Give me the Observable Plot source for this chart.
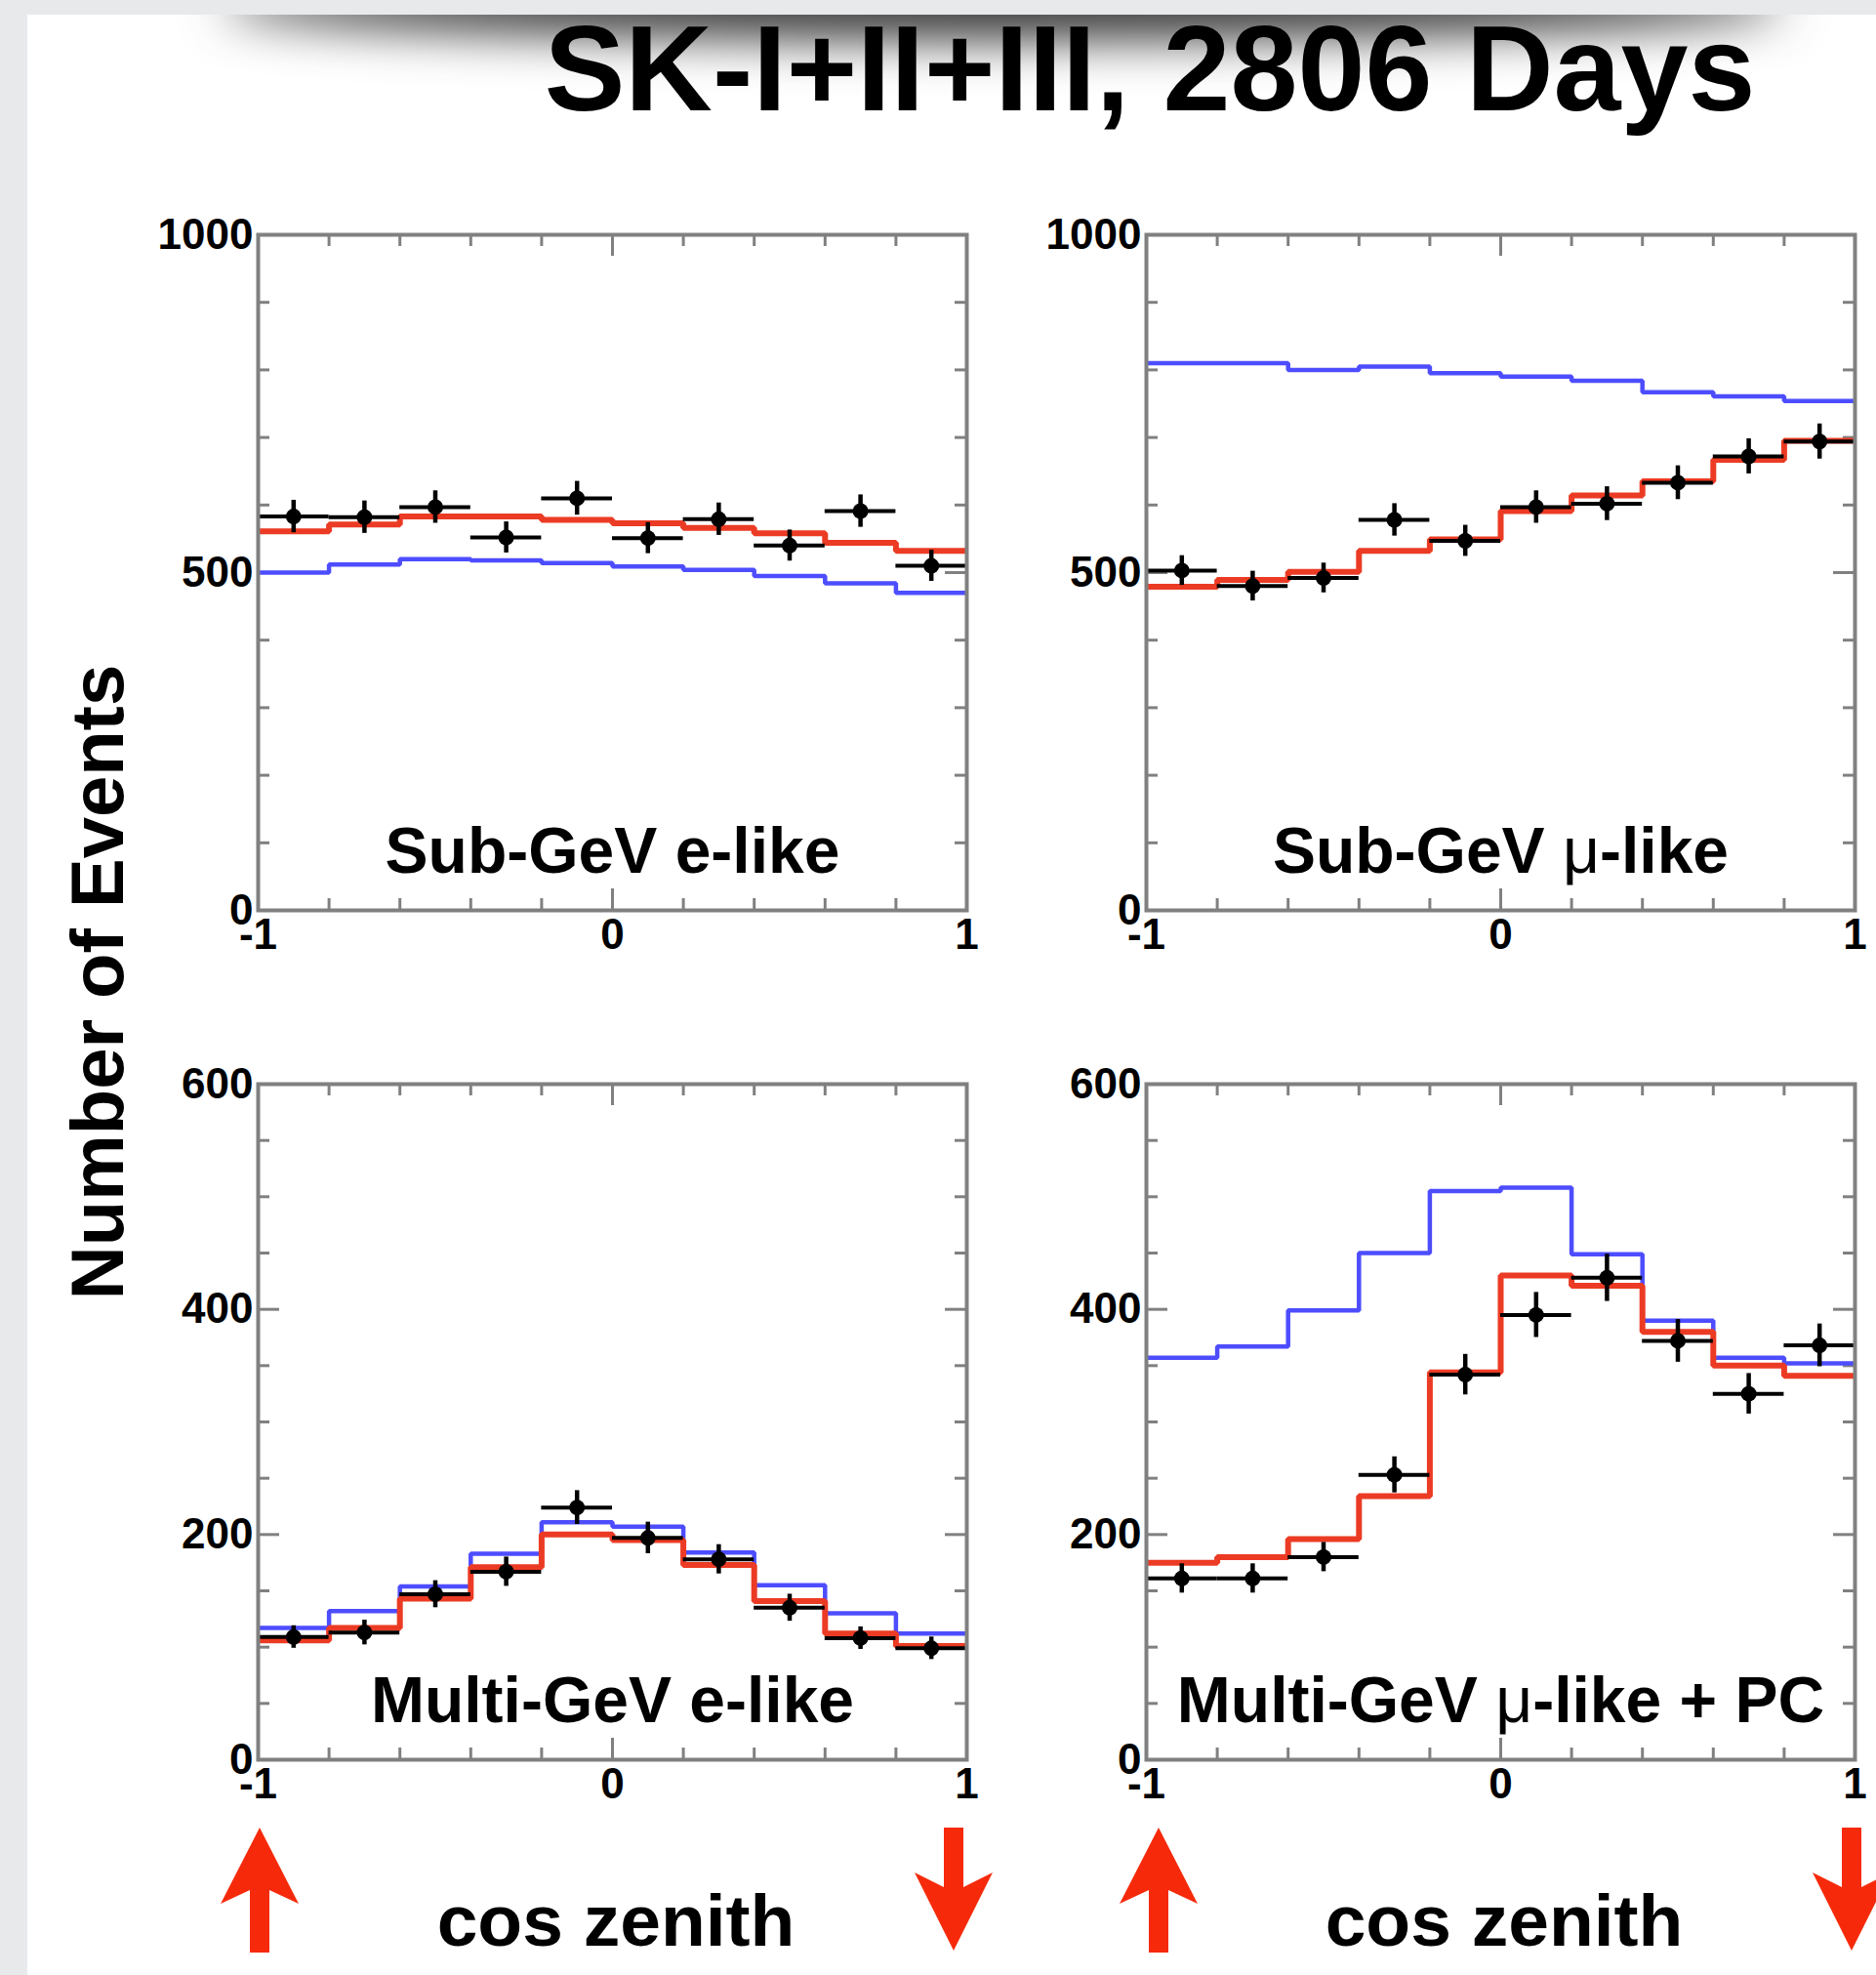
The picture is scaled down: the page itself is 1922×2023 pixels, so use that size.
<!DOCTYPE html>
<html>
<head>
<meta charset="utf-8">
<script src="https://cdn.jsdelivr.net/npm/d3@7"></script>
<script src="https://cdn.jsdelivr.net/npm/@observablehq/plot@0.6"></script>
<style>
  html, body { margin: 0; padding: 0; }
  body {
    width: 1922px; height: 2023px; position: relative; overflow: hidden;
    background: #e8e9eb;
    font-family: "Liberation Sans", Arial, Helvetica, sans-serif;
  }
  #card {
    position: absolute; left: 28px; top: 15px; width: 1894px; height: 2008px;
    background: #ffffff; overflow: hidden;
  }
  #shade {
    position: absolute; left: 215px; top: -40px; width: 1570px; height: 40px;
    border-radius: 50%;
    box-shadow: 0 10px 50px 15px rgba(0, 0, 0, 0.8);
    background: #333;
  }
  .panel { position: absolute; }
  #overlay { position: absolute; left: 0; top: 0; pointer-events: none; }
</style>
</head>
<body>
<div id="card"><div id="shade"></div></div>
<div id="panels"></div>
<svg id="overlay" width="1922" height="2023"></svg>
<script>
// Zenith-angle bins (cos zenith), 10 bins of width 0.2
const cosEdges   = [-1, -0.8, -0.6, -0.4, -0.2, 0, 0.2, 0.4, 0.6, 0.8, 1];
const cosCenters = [-0.9, -0.7, -0.5, -0.3, -0.1, 0.1, 0.3, 0.5, 0.7, 0.9];

// Sub-GeV e-like
const subGeVeData = [583, 582, 597, 552, 610, 551, 579, 540, 591, 510];
const subGeVeErr  = [24, 24, 24, 23, 25, 23, 24, 23, 24, 23];
const subGeVeOsc  = [561, 571, 583, 583, 578, 573, 566, 558, 544, 532];
const subGeVeNull = [500, 512, 520, 518, 514, 509, 504, 495, 484, 470];

// Sub-GeV mu-like
const subGeVmuData = [503, 480, 492, 578, 547, 597, 602, 633, 672, 694];
const subGeVmuErr  = [22, 22, 22, 24, 23, 24, 25, 25, 26, 26];
const subGeVmuOsc  = [479, 489, 501, 532, 549, 591, 614, 635, 667, 695];
const subGeVmuNull = [810, 810, 800, 805, 795, 790, 784, 767, 761, 754];

// Multi-GeV e-like
const multiGeVeData = [109, 113, 147, 167, 224, 197, 178, 135, 108, 99];
const multiGeVeErr  = [10, 11, 12, 13, 15, 14, 13, 12, 10, 10];
const multiGeVeOsc  = [106, 117, 143, 171, 200, 195, 173, 141, 112, 101];
const multiGeVeNull = [117, 132, 154, 183, 211, 207, 184, 155, 130, 112];

// Multi-GeV mu-like + PC
const multiGeVmuData = [161, 161, 180, 253, 342, 395, 428, 372, 325, 368];
const multiGeVmuErr  = [13, 13, 13, 16, 18, 20, 21, 19, 18, 19];
const multiGeVmuOsc  = [175, 180, 196, 234, 344, 430, 421, 380, 350, 341];
const multiGeVmuNull = [357, 367, 399, 450, 505, 508, 449, 390, 357, 352];

// Axis ticks
const xTickLabels = [-1, 0, 1];
const xMinorTicks = [-0.8, -0.6, -0.4, -0.2, 0.2, 0.4, 0.6, 0.8];
const xMajorTicks = [0];
const ySubTicks   = [100, 200, 300, 400, 600, 700, 800, 900];
const ySubLabels  = [0, 500, 1000];
const yMultiTicks = [50, 100, 150, 250, 300, 350, 450, 500, 550];
const yMultiLabels = [0, 200, 400, 600];

const title = "SK-I+II+III, 2806 Days";
const yTitle = "Number of Events";
const xTitle = "cos zenith";

const RED = "#ec3b24";
const BLUE = "#4d4dff";
const FRAME = "#808080";
const ARROW = "#f62a0b";

// Panel geometry (frame box in page pixels)
const FW = 726, FH = 692;
const mL = 130, mR = 21, mT = 30, mB = 60;
const MINOR = 12, MAJOR = 22;

function histStep(values) {
  return cosEdges.map((x, i) => ({x, v: values[Math.min(i, values.length - 1)]}));
}

function panel({data, err, osc, nul, label, yMax, yTicks, yLabels, left, top}) {
  const pts = cosCenters.map((c, i) => ({c, lo: cosEdges[i], hi: cosEdges[i + 1], v: data[i], e: err[i]}));
  const tickStyle = {stroke: FRAME, strokeWidth: 3};
  const plot = Plot.plot({
    width: FW + mL + mR,
    height: FH + mT + mB,
    marginLeft: mL, marginRight: mR, marginTop: mT, marginBottom: mB,
    style: {
      fontFamily: '"Liberation Sans", Arial, Helvetica, sans-serif',
      fontSize: "44px", fontWeight: "bold", color: "#000",
      background: "transparent", overflow: "visible"
    },
    x: {domain: [-1, 1], ticks: xTickLabels, tickSize: 0, tickPadding: 8,
        tickFormat: d => String(d), label: null},
    y: {domain: [0, yMax], ticks: yLabels, tickSize: 0, tickPadding: 5,
        tickFormat: d => String(d), label: null},
    marks: [
      // inward ticks on all four sides
      Plot.tickY(yTicks, {y: d => d, ...tickStyle, insetRight: FW - MINOR}),
      Plot.tickY(yTicks, {y: d => d, ...tickStyle, insetLeft: FW - MINOR}),
      Plot.tickY(yLabels, {y: d => d, ...tickStyle, insetRight: FW - MAJOR}),
      Plot.tickY(yLabels, {y: d => d, ...tickStyle, insetLeft: FW - MAJOR}),
      Plot.tickX(xMinorTicks, {x: d => d, ...tickStyle, insetTop: FH - MINOR}),
      Plot.tickX(xMinorTicks, {x: d => d, ...tickStyle, insetBottom: FH - MINOR}),
      Plot.tickX(xMajorTicks, {x: d => d, ...tickStyle, insetTop: FH - MAJOR}),
      Plot.tickX(xMajorTicks, {x: d => d, ...tickStyle, insetBottom: FH - MAJOR}),
      // no-oscillation expectation
      Plot.line(histStep(nul), {x: "x", y: "v", curve: "step-after", stroke: BLUE, strokeWidth: 4.5, strokeLinejoin: "miter", strokeLinecap: "butt"}),
      // best-fit oscillation
      Plot.line(histStep(osc), {x: "x", y: "v", curve: "step-after", stroke: RED, strokeWidth: 6, strokeLinejoin: "miter", strokeLinecap: "butt"}),
      // data with errors
      Plot.ruleY(pts, {y: "v", x1: "lo", x2: "hi", stroke: "#000", strokeWidth: 4}),
      Plot.ruleX(pts, {x: "c", y1: d => d.v - d.e, y2: d => d.v + d.e, stroke: "#000", strokeWidth: 4.5}),
      Plot.dot(pts, {x: "c", y: "v", r: 8, fill: "#000", stroke: null}),
      Plot.text([label], {text: d => d, frameAnchor: "bottom", lineAnchor: "bottom", dy: -39,
                          fontSize: 66, fontWeight: "bold", fill: "#000"}),
      Plot.frame({stroke: FRAME, strokeWidth: 4})
    ]
  });
  plot.classList.add("panel");
  plot.style.left = (left - mL) + "px";
  plot.style.top = (top - mT) + "px";
  // Greek mu drawn in a lighter face, as in the original labels
  plot.querySelectorAll("text").forEach(t => {
    if (t.textContent.includes("μ") && t.children.length === 0) {
      const parts = t.textContent.split("μ");
      t.textContent = "";
      parts.forEach((p, i) => {
        if (i > 0) {
          const mu = document.createElementNS("http://www.w3.org/2000/svg", "tspan");
          mu.textContent = "μ";
          mu.setAttribute("font-weight", "normal");
          t.appendChild(mu);
        }
        const s = document.createElementNS("http://www.w3.org/2000/svg", "tspan");
        s.textContent = p;
        t.appendChild(s);
      });
    }
  });
  document.getElementById("panels").appendChild(plot);
  return {plot, left: left - mL, top: top - mT};
}

const TL = panel({data: subGeVeData, err: subGeVeErr, osc: subGeVeOsc, nul: subGeVeNull,
  label: "Sub-GeV e-like", yMax: 1000, yTicks: ySubTicks, yLabels: ySubLabels, left: 264, top: 240});
const TR = panel({data: subGeVmuData, err: subGeVmuErr, osc: subGeVmuOsc, nul: subGeVmuNull,
  label: "Sub-GeV μ-like", yMax: 1000, yTicks: ySubTicks, yLabels: ySubLabels, left: 1174, top: 240});
const BL = panel({data: multiGeVeData, err: multiGeVeErr, osc: multiGeVeOsc, nul: multiGeVeNull,
  label: "Multi-GeV e-like", yMax: 600, yTicks: yMultiTicks, yLabels: yMultiLabels, left: 264, top: 1110});
const BR = panel({data: multiGeVmuData, err: multiGeVmuErr, osc: multiGeVmuOsc, nul: multiGeVmuNull,
  label: "Multi-GeV μ-like + PC", yMax: 600, yTicks: yMultiTicks, yLabels: yMultiLabels, left: 1174, top: 1110});

// Titles, axis captions and direction arrows
const svg = d3.select("#overlay");
const font = '"Liberation Sans", Arial, Helvetica, sans-serif';

svg.append("text").attr("x", 1178).attr("y", 113).attr("text-anchor", "middle")
  .attr("font-family", font).attr("font-weight", "bold").attr("font-size", 124)
  .attr("fill", "#000").text(title);

svg.append("text").attr("transform", "translate(126,1006) rotate(-90)").attr("text-anchor", "middle")
  .attr("font-family", font).attr("font-weight", "bold").attr("font-size", 76)
  .attr("fill", "#000").text(yTitle);

function arrowPath(cx, up) {
  const hw = 40, sw = 10;
  if (up) {
    const tip = 1872, barb = 1950, notch = 1936, tail = 2000;
    return `M${cx},${tip}L${cx + hw},${barb}L${cx + sw},${notch}L${cx + sw},${tail}L${cx - sw},${tail}L${cx - sw},${notch}L${cx - hw},${barb}Z`;
  } else {
    const tail = 1872, barb = 1918, notch = 1933, tip = 1998;
    return `M${cx - sw},${tail}L${cx + sw},${tail}L${cx + sw},${notch}L${cx + hw},${barb}L${cx},${tip}L${cx - hw},${barb}L${cx - sw},${notch}Z`;
  }
}

[[BL, 2, -13], [BR, 13, -3]].forEach(([p, upNudge, downNudge]) => {
  const xs = p.plot.scale("x");
  const xUp = p.left + xs.apply(-1) + upNudge;
  const xDown = p.left + xs.apply(1) + downNudge;
  const xMid = p.left + xs.apply(0) + 4;
  svg.append("path").attr("d", arrowPath(xUp, true)).attr("fill", ARROW);
  svg.append("path").attr("d", arrowPath(xDown, false)).attr("fill", ARROW);
  svg.append("text").attr("x", xMid).attr("y", 1993).attr("text-anchor", "middle")
    .attr("font-family", font).attr("font-weight", "bold").attr("font-size", 75)
    .attr("fill", "#000").text(xTitle);
});
</script>
</body>
</html>
